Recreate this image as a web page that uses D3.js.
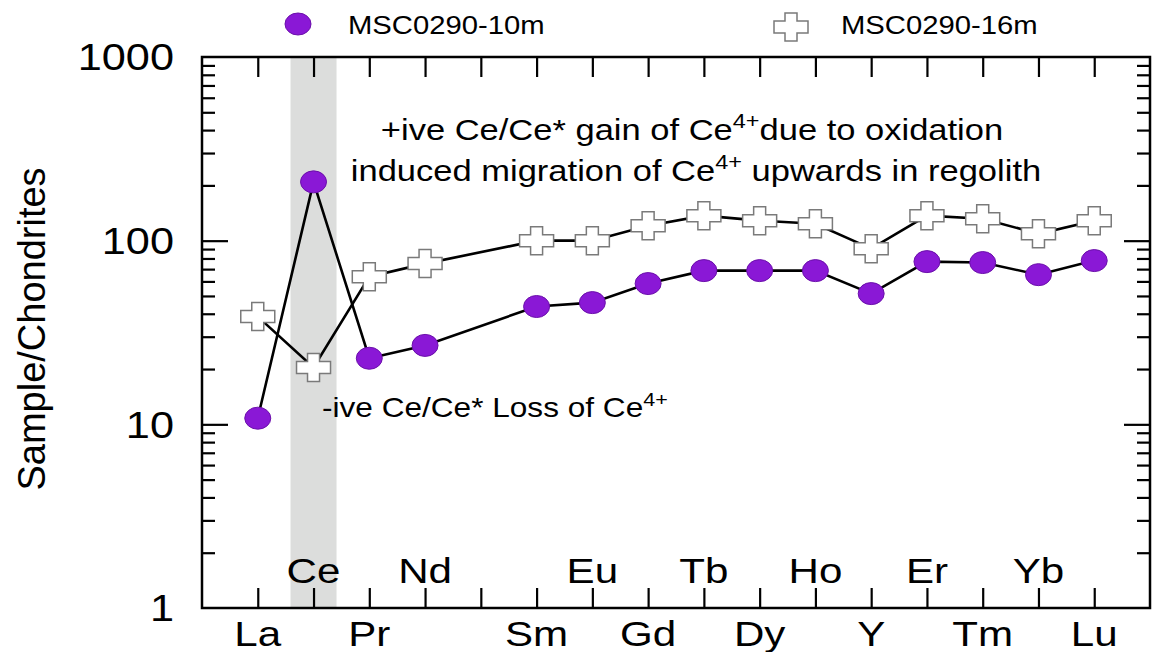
<!DOCTYPE html>
<html>
<head>
<meta charset="utf-8">
<script src="https://cdn.jsdelivr.net/npm/d3@7"></script>
<style>
  body { margin: 0; background: #fff; }
  svg { display: block; font-family: "Liberation Sans", Arial, sans-serif; }
</style>
</head>
<body>
<div id="chart"></div>
<script>
// REE elements (Pm has no data)
var elements = ["La", "Ce", "Pr", "Nd", "Pm", "Sm", "Eu", "Gd", "Tb", "Dy", "Ho", "Y", "Er", "Tm", "Yb", "Lu"];
var bottomLabels = ["La", "Pr", "Sm", "Gd", "Dy", "Y", "Tm", "Lu"];
var topLabels = ["Ce", "Nd", "Eu", "Tb", "Ho", "Er", "Yb"];
var yTicks = [1, 10, 100, 1000];

var sample10m = [10.8, 209, 22.9, 26.9, null, 43.8, 46, 58.4, 68.7, 68.7, 68.7, 51.5, 76.9, 76, 65.3, 77.9];
var sample16m = [38.6, 20.4, 63.7, 75, null, 100, 100, 120.7, 136.8, 128.5, 123.7, 90.5, 136.8, 131.7, 109, 128.5];

var seriesNames = ["MSC0290-10m", "MSC0290-16m"];

var width = 1152, height = 652;
var plotL = 202, plotR = 1150, plotT = 57, plotB = 608;
var sx = 1.17; // horizontal stretch of the original text

var svg = d3.select("#chart").append("svg").attr("width", width).attr("height", height);

var x = d3.scalePoint().domain(elements).range([plotL, plotR]).padding(1);
var y = d3.scaleLog().domain([1, 1000]).range([plotB, plotT]);

// grey band behind Ce
svg.append("rect")
    .attr("x", x("Ce") - 23).attr("y", plotT)
    .attr("width", 46).attr("height", plotB - plotT)
    .attr("fill", "#dcdddc");

// minor + major log ticks
var minors = [];
[1, 10, 100].forEach(function(d) {
    for (var k = 2; k <= 9; k++) minors.push(d * k);
});

function styleAxis(g) {
    g.select(".domain").remove();
    g.selectAll(".tick line").attr("stroke", "#000").attr("stroke-width", 2.2);
    g.selectAll(".tick text").remove();
}

svg.append("g").attr("transform", "translate(" + plotL + ",0)")
    .call(d3.axisRight(y).tickValues(minors).tickSize(13)).call(styleAxis);
svg.append("g").attr("transform", "translate(" + plotL + ",0)")
    .call(d3.axisRight(y).tickValues([10, 100]).tickSize(26)).call(styleAxis);
svg.append("g").attr("transform", "translate(" + plotR + ",0)")
    .call(d3.axisLeft(y).tickValues(minors).tickSize(13)).call(styleAxis);
svg.append("g").attr("transform", "translate(" + plotR + ",0)")
    .call(d3.axisLeft(y).tickValues([10, 100]).tickSize(26)).call(styleAxis);

// x ticks, top and bottom, pointing inward
svg.append("g").attr("transform", "translate(0," + plotT + ")")
    .call(d3.axisBottom(x).tickSize(20)).call(styleAxis);
svg.append("g").attr("transform", "translate(0," + plotB + ")")
    .call(d3.axisTop(x).tickSize(20)).call(styleAxis);

// frame
svg.append("rect")
    .attr("x", plotL).attr("y", plotT)
    .attr("width", plotR - plotL).attr("height", plotB - plotT)
    .attr("fill", "none").attr("stroke", "#000").attr("stroke-width", 2.5);

function addText(px, py, size, anchor) {
    return svg.append("text")
        .attr("transform", "translate(" + px + "," + py + ") scale(" + sx + ",1)")
        .attr("font-size", size)
        .attr("text-anchor", anchor || "start")
        .attr("fill", "#000");
}

// y tick labels
yTicks.forEach(function(d) {
    addText(174, y(d), 37, "end").attr("dy", "0.36em").text(d);
});

// element labels
bottomLabels.forEach(function(d) {
    addText(x(d), 646, 36, "middle").text(d);
});
topLabels.forEach(function(d) {
    addText(x(d), 583, 36, "middle").text(d);
});

// y title
svg.append("text")
    .attr("transform", "translate(45,329) rotate(-90)")
    .attr("font-size", 38)
    .attr("text-anchor", "middle")
    .text("Sample/Chondrites");

// lines
var line = d3.line()
    .x(function(d) { return x(d.el); })
    .y(function(d) { return y(d.v); });

function pts(vals) {
    return elements.map(function(el, i) { return { el: el, v: vals[i] }; })
        .filter(function(d) { return d.v != null; });
}

var pts10 = pts(sample10m);
var pts16 = pts(sample16m);

[pts16, pts10].forEach(function(p) {
    svg.append("path").datum(p)
        .attr("d", line)
        .attr("fill", "none")
        .attr("stroke", "#000")
        .attr("stroke-width", 2.6);
});

// cross marker path
var crossPath = "M-6,-14H6V-6H17V6H6V14H-6V6H-17V-6H-6Z";

svg.selectAll(".cross").data(pts16).enter().append("path")
    .attr("class", "cross")
    .attr("transform", function(d) { return "translate(" + x(d.el) + "," + y(d.v) + ")"; })
    .attr("d", crossPath)
    .attr("fill", "#fff")
    .attr("stroke", "#7a7a7a")
    .attr("stroke-width", 1.5);

svg.selectAll(".dot").data(pts10).enter().append("ellipse")
    .attr("class", "dot")
    .attr("cx", function(d) { return x(d.el); })
    .attr("cy", function(d) { return y(d.v); })
    .attr("rx", 13).attr("ry", 11)
    .attr("fill", "#8a18d6")
    .attr("stroke", "#6b10aa")
    .attr("stroke-width", 1);

// legend
svg.append("ellipse")
    .attr("cx", 298).attr("cy", 24).attr("rx", 13).attr("ry", 11)
    .attr("fill", "#8a18d6").attr("stroke", "#6b10aa").attr("stroke-width", 1);
addText(348, 34, 25).text(seriesNames[0]);
svg.append("path")
    .attr("transform", "translate(791,27)")
    .attr("d", crossPath)
    .attr("fill", "#fff").attr("stroke", "#7a7a7a").attr("stroke-width", 1.5);
addText(841, 34, 25).text(seriesNames[1]);

// annotations, with superscript 4+
function supText(t, size, parts) {
    var shift = Math.round(size * 0.42);
    parts.forEach(function(p) {
        if (p.sup) {
            t.append("tspan").attr("dy", -shift).attr("font-size", size * 0.68).text(p.s);
        } else {
            t.append("tspan").attr("dy", p.after ? shift : 0).text(p.s);
        }
    });
}

supText(addText(692, 140, 29.5, "middle"), 29.5, [
    { s: "+ive Ce/Ce* gain of Ce" }, { s: "4+", sup: true }, { s: "due to oxidation", after: true }
]);
supText(addText(696, 181, 29.5, "middle"), 29.5, [
    { s: "induced migration of Ce" }, { s: "4+", sup: true }, { s: " upwards in regolith", after: true }
]);
supText(addText(322, 417, 27, "start"), 27, [
    { s: "-ive Ce/Ce* Loss of Ce" }, { s: "4+", sup: true }
]);
</script>
</body>
</html>
